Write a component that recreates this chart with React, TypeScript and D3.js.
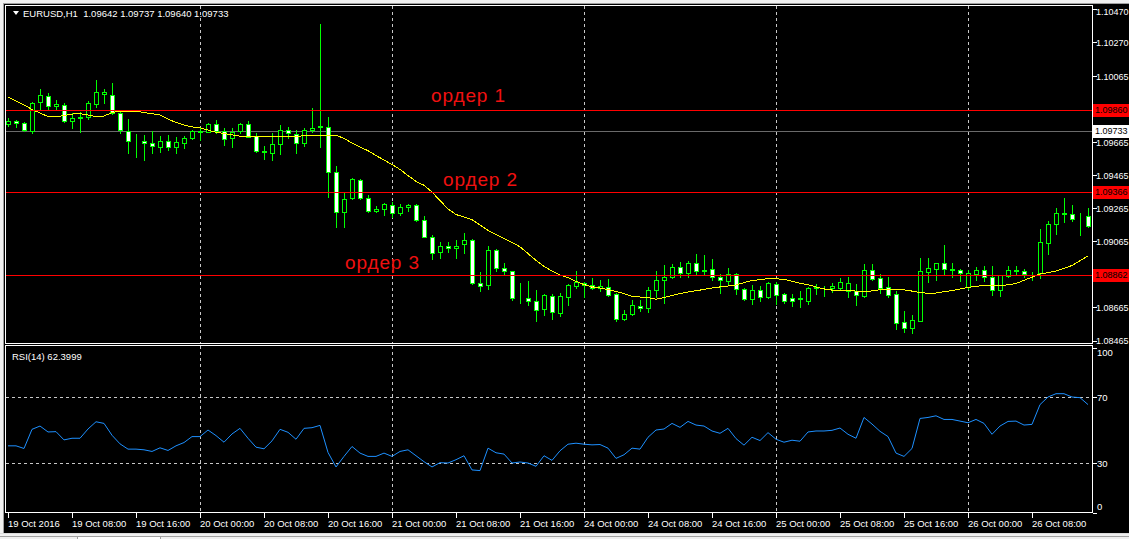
import React from "react";
import * as d3 from "d3";

// подписи шкалы времени (каждые 8 баров)
const timeLabels = [
  "19 Oct 2016", "19 Oct 08:00", "19 Oct 16:00", "20 Oct 00:00", "20 Oct 08:00",
  "20 Oct 16:00", "21 Oct 00:00", "21 Oct 08:00", "21 Oct 16:00", "24 Oct 00:00",
  "24 Oct 08:00", "24 Oct 16:00", "25 Oct 00:00", "25 Oct 08:00", "25 Oct 16:00",
  "26 Oct 00:00", "26 Oct 08:00",
];

const priceTicks = [1.1047, 1.1027, 1.10065, 1.0986, 1.09665, 1.09465, 1.09265, 1.09065, 1.08865, 1.08665, 1.08465];
const rsiTicks = [100, 70, 30, 0];
const rsiLevels = [70, 30];

// EURUSD H1, OHLC
const opens = [
  1.09775, 1.09793, 1.09781, 1.09734, 1.09908, 1.09946, 1.09884, 1.09892, 1.09791, 1.09811,
  1.09815, 1.09898, 1.09954, 1.09952, 1.0984, 1.09734, 1.0967, 1.09674, 1.09662, 1.09637,
  1.0967, 1.09634, 1.09662, 1.09688, 1.09732, 1.09726, 1.09773, 1.09734, 1.09688, 1.09731,
  1.09773, 1.09702, 1.09613, 1.09601, 1.09654, 1.09738, 1.09712, 1.09658, 1.09738, 1.09763,
  1.09758, 1.09483, 1.09241, 1.09325, 1.09434, 1.09325, 1.0925, 1.09259, 1.09283, 1.09235,
  1.09271, 1.09283, 1.09192, 1.09093, 1.08999, 1.09038, 1.09023, 1.09047, 1.09071, 1.08811,
  1.08799, 1.09012, 1.08902, 1.08884, 1.0872, 1.0872, 1.08706, 1.08654, 1.08734, 1.08633,
  1.0873, 1.08797, 1.08813, 1.08799, 1.08781, 1.0879, 1.08744, 1.08593, 1.08623, 1.08674,
  1.0866, 1.0877, 1.08831, 1.08847, 1.08908, 1.08871, 1.08932, 1.08887, 1.08896, 1.08847,
  1.08827, 1.08867, 1.08775, 1.08714, 1.0877, 1.0873, 1.08807, 1.08744, 1.08722, 1.08714,
  1.08706, 1.08783, 1.08786, 1.08784, 1.08784, 1.08766, 1.08766, 1.08734, 1.0889, 1.08843,
  1.08787, 1.08744, 1.08575, 1.08539, 1.08585, 1.08881, 1.08899, 1.08932, 1.08896, 1.0889,
  1.08787, 1.08869, 1.0889, 1.08849, 1.08772, 1.08857, 1.08888, 1.08885, 1.08865, 1.08871,
  1.09057, 1.09168, 1.09236, 1.09228, 1.09209, 1.09218,
];
const highs = [
  1.09811, 1.09799, 1.09789, 1.0991, 1.09987, 1.09961, 1.0992, 1.09902, 1.09841, 1.09847,
  1.09914, 1.10041, 1.09987, 1.10023, 1.09849, 1.09803, 1.09712, 1.09708, 1.09731, 1.09702,
  1.09708, 1.09698, 1.09702, 1.09738, 1.09749, 1.09779, 1.09799, 1.09751, 1.09749, 1.09783,
  1.09795, 1.09722, 1.09642, 1.09719, 1.09769, 1.09758, 1.09738, 1.09752, 1.0987, 1.1038,
  1.09819, 1.09521, 1.09356, 1.09446, 1.0944, 1.09345, 1.09279, 1.09299, 1.09305, 1.09291,
  1.09291, 1.09291, 1.09218, 1.09103, 1.09059, 1.09063, 1.09073, 1.09113, 1.09077, 1.08879,
  1.09037, 1.09017, 1.08932, 1.08887, 1.08811, 1.08827, 1.0877, 1.08746, 1.08746, 1.0875,
  1.08807, 1.08885, 1.08821, 1.08843, 1.08831, 1.08837, 1.0875, 1.08649, 1.0871, 1.0871,
  1.0879, 1.08885, 1.0892, 1.08928, 1.08942, 1.08946, 1.08988, 1.08982, 1.08958, 1.08867,
  1.08905, 1.08871, 1.08784, 1.08801, 1.08795, 1.08817, 1.08821, 1.08754, 1.08746, 1.08766,
  1.0879, 1.08805, 1.08795, 1.08811, 1.08841, 1.08851, 1.08807, 1.08928, 1.08928, 1.08867,
  1.08851, 1.08766, 1.08643, 1.08619, 1.08964, 1.08964, 1.08936, 1.09043, 1.08932, 1.08896,
  1.08891, 1.08908, 1.08916, 1.08916, 1.08863, 1.08916, 1.08916, 1.08898, 1.08878, 1.0914,
  1.09188, 1.09265, 1.09327, 1.09285, 1.09238, 1.09268,
];
const lows = [
  1.09763, 1.09757, 1.09732, 1.09722, 1.09859, 1.09859, 1.09859, 1.09787, 1.09752, 1.09728,
  1.09807, 1.09876, 1.099, 1.09833, 1.09722, 1.09601, 1.09573, 1.09557, 1.09601, 1.09605,
  1.09617, 1.09597, 1.0963, 1.09682, 1.09678, 1.09725, 1.09719, 1.0965, 1.09634, 1.09722,
  1.09694, 1.09607, 1.09561, 1.09557, 1.09593, 1.0969, 1.09601, 1.09643, 1.09728, 1.09634,
  1.09335, 1.09153, 1.0915, 1.09319, 1.09319, 1.09242, 1.09242, 1.09224, 1.0921, 1.09224,
  1.0925, 1.09186, 1.09089, 1.08956, 1.08962, 1.09002, 1.08962, 1.08993, 1.08807, 1.08766,
  1.08775, 1.08887, 1.08867, 1.0871, 1.0869, 1.08678, 1.08585, 1.08619, 1.08593, 1.08613,
  1.0868, 1.08783, 1.0873, 1.08778, 1.08766, 1.08734, 1.08585, 1.08589, 1.08619, 1.08645,
  1.08639, 1.08726, 1.08694, 1.08841, 1.08847, 1.08851, 1.08861, 1.08861, 1.08831, 1.08754,
  1.08807, 1.08746, 1.0871, 1.08686, 1.08706, 1.08724, 1.08686, 1.0869, 1.08674, 1.08669,
  1.08686, 1.08746, 1.08734, 1.0876, 1.0877, 1.0873, 1.0868, 1.08726, 1.08831, 1.08754,
  1.0873, 1.08535, 1.08518, 1.08508, 1.08581, 1.08821, 1.08831, 1.08865, 1.08847, 1.08827,
  1.08775, 1.08831, 1.08827, 1.0874, 1.08734, 1.08847, 1.08865, 1.08851, 1.08831, 1.08843,
  1.08988, 1.09109, 1.09184, 1.0919, 1.09103, 1.0915,
];
const closes = [
  1.09793, 1.09781, 1.09738, 1.09904, 1.09948, 1.09884, 1.09893, 1.09791, 1.09811, 1.09817,
  1.099, 1.09967, 1.09967, 1.0984, 1.09738, 1.0967, 1.09672, 1.09662, 1.09642, 1.0967,
  1.09634, 1.09664, 1.0969, 1.09732, 1.09725, 1.09775, 1.09734, 1.09682, 1.09728, 1.09775,
  1.09698, 1.09613, 1.09604, 1.09652, 1.09738, 1.09719, 1.09658, 1.09738, 1.09751, 1.09755,
  1.09483, 1.09241, 1.09323, 1.0944, 1.09325, 1.0925, 1.09258, 1.09289, 1.09235, 1.09271,
  1.09283, 1.09192, 1.09093, 1.08993, 1.09038, 1.09023, 1.09038, 1.09071, 1.08811, 1.08797,
  1.09012, 1.08902, 1.08884, 1.0872, 1.08725, 1.08706, 1.08649, 1.08738, 1.08636, 1.08734,
  1.08801, 1.08817, 1.08801, 1.08781, 1.08795, 1.08742, 1.08593, 1.08625, 1.08678, 1.0866,
  1.08769, 1.08831, 1.08847, 1.08908, 1.08871, 1.08932, 1.08887, 1.08893, 1.08847, 1.08829,
  1.08867, 1.08775, 1.08714, 1.0877, 1.0873, 1.08811, 1.0874, 1.08706, 1.08706, 1.08725,
  1.08783, 1.08786, 1.08789, 1.08795, 1.08817, 1.08811, 1.08742, 1.08891, 1.08839, 1.08784,
  1.08742, 1.08573, 1.08539, 1.08587, 1.08884, 1.08902, 1.08932, 1.08896, 1.08891, 1.08871,
  1.08871, 1.08891, 1.08851, 1.08772, 1.08859, 1.0889, 1.08891, 1.08865, 1.0887, 1.09061,
  1.09168, 1.09236, 1.0923, 1.09202, 1.09205, 1.09159,
];

// скользящая средняя (жёлтая)
const maValues = [
  1.09938, 1.09914, 1.0989, 1.09863, 1.09841, 1.0982, 1.09819, 1.09826, 1.09835, 1.09838,
  1.09829, 1.09819, 1.09823, 1.09844, 1.09853, 1.09853, 1.09852, 1.09844, 1.09837, 1.09829,
  1.09805, 1.09784, 1.09769, 1.09757, 1.09752, 1.09738, 1.09725, 1.09717, 1.09709, 1.09701,
  1.09698, 1.09698, 1.097, 1.09701, 1.09698, 1.09698, 1.09698, 1.09705, 1.09708, 1.09708,
  1.09708, 1.09708, 1.09687, 1.0966, 1.09636, 1.09613, 1.09584, 1.09557, 1.0953, 1.095,
  1.09463, 1.09428, 1.09404, 1.09363, 1.09312, 1.09261, 1.09227, 1.09213, 1.09196, 1.09164,
  1.09131, 1.09106, 1.09081, 1.09058, 1.09032, 1.08991, 1.0895, 1.08914, 1.08885, 1.08861,
  1.08846, 1.08823, 1.08803, 1.08789, 1.08783, 1.08773, 1.08761, 1.08749, 1.08733, 1.08728,
  1.08725, 1.08715, 1.08725, 1.08737, 1.08749, 1.08758, 1.08766, 1.08774, 1.08783, 1.08789,
  1.08795, 1.08801, 1.08815, 1.08828, 1.08833, 1.08839, 1.08838, 1.08835, 1.08824, 1.08811,
  1.08803, 1.08789, 1.08777, 1.0877, 1.0877, 1.08767, 1.08764, 1.08761, 1.08765, 1.08772,
  1.08775, 1.08775, 1.08771, 1.08764, 1.08755, 1.08751, 1.08752, 1.0876, 1.08767, 1.08777,
  1.08786, 1.08793, 1.08797, 1.08797, 1.08797, 1.08802, 1.0881, 1.08829, 1.08848, 1.08867,
  1.08876, 1.08885, 1.08901, 1.08919, 1.08948, 1.08976,
];

// RSI(14)
const rsiValues = [
  40.4, 40.4, 38.8, 50.4, 52.4, 48.8, 49, 44, 45, 45,
  50.6, 55, 54, 46.8, 41.6, 38.4, 38.4, 38, 37, 39.2,
  37.6, 40.4, 42.4, 46, 46, 50, 46.6, 42.6, 47.6, 51,
  45, 39.6, 38.6, 43.4, 50.4, 48.6, 44.4, 51, 51.4, 52.8,
  36.4, 27.6, 34, 40, 36, 34, 34, 36, 34, 37,
  38, 34.4, 30.8, 27.6, 30.2, 30, 32, 34.4, 25.8, 25.4,
  39, 36.2, 35.4, 30, 30.6, 30, 28, 34.4, 31.6, 37.4,
  41.4, 42, 41.4, 41, 41.2, 39, 32.8, 35, 39, 38.4,
  45.6, 50, 50.6, 54, 51.6, 55.2, 53, 52.4, 49.4, 48,
  51, 44.8, 40.8, 45.6, 43.6, 48.4, 44.4, 42.6, 43.8, 43.2,
  48.8, 49.4, 49.4, 49.8, 51.2, 47.4, 45, 57.6, 53.6, 49.2,
  46, 36, 34, 38.8, 57, 57.6, 58.6, 56.4, 56.4, 55.4,
  54.4, 56.4, 54, 47.4, 52.4, 55.2, 55.4, 53, 53.4, 65.4,
  70, 72, 72, 70, 69.6, 65.4,
];

const orderLevels = [1.0986, 1.09366, 1.08862];
const orderNames = ["ордер 1", "ордер 2", "ордер 3"];
const bidPrice = 1.09733;
const headerText = "EURUSD,H1  1.09642 1.09737 1.09640 1.09733";
const rsiText = "RSI(14) 62.3999";

const FONT = "'Liberation Sans', Arial, sans-serif";

const App: React.FC = () => {
  const W = 1129;
  const H = 539;
  const left = 5.5;
  const right = 1092.5;
  const mainTop = 5.5;
  const mainBottom = 343.5;
  const rsiTop = 345.5;
  const rsiBottom = 512.5;

  const x = d3.scaleLinear().domain([0, closes.length - 1]).range([8, 1088]);
  const y = d3.scaleLinear().domain([1.08465, 1.1047]).range([340.5, 9.1]);
  const yR = d3.scaleLinear().domain([0, 100]).range([512.5, 347.5]);

  const px = (v: number) => Math.round(v) + 0.5;

  const maPath = d3.line<number>().x((_, i) => x(i)).y((d) => y(d))(maValues) || "";
  const rsiPath = d3.line<number>().x((_, i) => x(i)).y((d) => yR(d))(rsiValues) || "";

  // вертикальная сетка по полуночи
  const gridBars = timeLabels
    .map((t, i) => ({ t, bar: i * 8 }))
    .filter((d) => d.t.endsWith("00:00"))
    .map((d) => d.bar);

  const labelOffsets = [
    { x: 431, dy: -8 },
    { x: 443, dy: -6 },
    { x: 345, dy: -6 },
  ];

  return (
    <div style={{ position: "absolute", left: 0, top: 0 }}>
      <svg width={W} height={H} style={{ display: "block", fontFamily: FONT }}>
        <defs>
          <clipPath id="mainClip">
            <rect x={left + 0.5} y={mainTop + 0.5} width={right - left - 1} height={mainBottom - mainTop - 1} />
          </clipPath>
          <clipPath id="rsiClip">
            <rect x={left + 0.5} y={rsiTop + 0.5} width={right - left - 1} height={rsiBottom - rsiTop - 1} />
          </clipPath>
        </defs>

        {/* рамка окна */}
        <rect x={0} y={0} width={W} height={H} fill="#f0f0f0" />
        <rect x={4} y={4} width={W - 4} height={529} fill="#000" />
        <line x1={3.5} x2={3.5} y1={3} y2={533} stroke="#a0a0a0" />
        <line x1={3} x2={W} y1={3.5} y2={3.5} stroke="#a0a0a0" />
        <line x1={0} x2={W} y1={533.5} y2={533.5} stroke="#dcdcdc" />
        <rect x={77.5} y={536.5} width={83} height={4} fill="#fff" stroke="#a0a0a0" />
        <line x1={0} x2={77} y1={536.5} y2={536.5} stroke="#a0a0a0" />
        <line x1={160} x2={W} y1={536.5} y2={536.5} stroke="#a0a0a0" />

        {/* сетка */}
        <g stroke="#c8c8c8" strokeDasharray="3,3" shapeRendering="crispEdges">
          {gridBars.map((b) => (
            <g key={b}>
              <line x1={px(x(b))} x2={px(x(b))} y1={mainTop} y2={mainBottom} />
              <line x1={px(x(b))} x2={px(x(b))} y1={rsiTop} y2={rsiBottom} />
            </g>
          ))}
          {rsiLevels.map((l) => (
            <line key={l} x1={left} x2={right + 4} y1={px(yR(l))} y2={px(yR(l))} />
          ))}
        </g>

        {/* свечи */}
        <g clipPath="url(#mainClip)" shapeRendering="crispEdges">
          <line x1={left} x2={right} y1={px(y(bidPrice))} y2={px(y(bidPrice))} stroke="#6a6a6a" />
          {closes.map((c, i) => {
            const o = opens[i];
            const cx = px(x(i));
            const yo = y(o);
            const yc = y(c);
            const top = Math.round(Math.min(yo, yc));
            const bot = Math.round(Math.max(yo, yc));
            const bull = c >= o;
            return (
              <g key={i}>
                <line x1={cx} x2={cx} y1={Math.round(y(highs[i]))} y2={Math.round(y(lows[i])) + 1} stroke="#00ff00" />
                <rect
                  x={cx - 2}
                  y={top + 0.5}
                  width={4}
                  height={Math.max(bot - top, 0)}
                  fill={bull ? "#000" : "#fff"}
                  stroke="#00ff00"
                />
              </g>
            );
          })}
          <path d={maPath} fill="none" stroke="#ffff00" strokeWidth={1} />
          {orderLevels.map((l) => (
            <line key={l} x1={left} x2={right} y1={px(y(l))} y2={px(y(l))} stroke="#ff0000" />
          ))}
        </g>

        {/* надписи ордеров */}
        {orderLevels.map((l, i) => (
          <text
            key={l}
            x={labelOffsets[i].x}
            y={y(l) + labelOffsets[i].dy}
            fill="#f01010"
            fontSize={19}
            textLength={74}
            lengthAdjust="spacing"
          >
            {orderNames[i]}
          </text>
        ))}

        {/* RSI */}
        <g clipPath="url(#rsiClip)">
          <path d={rsiPath} fill="none" stroke="#1e90ff" strokeWidth={1} />
        </g>

        {/* рамки панелей */}
        <g fill="none" stroke="#fff" shapeRendering="crispEdges">
          <rect x={left} y={mainTop} width={right - left} height={mainBottom - mainTop} />
          <rect x={left} y={rsiTop} width={right - left} height={rsiBottom - rsiTop} />
        </g>

        {/* шкала цен */}
        <g fill="#fff" fontSize={9}>
          {priceTicks.map((p) => (
            <g key={p}>
              <line x1={right} x2={right + 4} y1={px(y(p))} y2={px(y(p))} stroke="#fff" shapeRendering="crispEdges" />
              <text x={1096} y={Math.max(y(p), 11) + 3.5}>{p.toFixed(5)}</text>
            </g>
          ))}
        </g>
        {orderLevels.map((l) => (
          <g key={l}>
            <rect x={1093} y={Math.round(y(l)) - 6} width={36} height={13} fill="#ff0000" />
            <text x={1095} y={y(l) + 3.5} fontSize={9} fill="#000">{l.toFixed(5)}</text>
          </g>
        ))}
        <rect x={1093} y={Math.round(y(bidPrice)) - 6} width={36} height={13} fill="#fff" />
        <text x={1095} y={y(bidPrice) + 3.5} fontSize={9} fill="#000">{bidPrice.toFixed(5)}</text>

        {/* шкала RSI */}
        <g fill="#fff" fontSize={9.5}>
          {rsiTicks.map((t) => {
            const ty = Math.min(Math.max(yR(t), rsiTop + 7), rsiBottom - 6);
            return (
              <g key={t}>
                <line x1={right} x2={right + 4} y1={px(yR(t))} y2={px(yR(t))} stroke="#fff" shapeRendering="crispEdges" />
                <text x={1097} y={ty + 3.5}>{t}</text>
              </g>
            );
          })}
        </g>

        {/* шкала времени */}
        <g fill="#fff" fontSize={9.5}>
          {timeLabels.map((t, i) => (
            <g key={t}>
              <line x1={px(x(i * 8))} x2={px(x(i * 8))} y1={rsiBottom} y2={518} stroke="#fff" shapeRendering="crispEdges" />
              <text x={x(i * 8)} y={527}>{t}</text>
            </g>
          ))}
        </g>

        {/* заголовки */}
        <polygon points="13,11 19,11 16,15" fill="#fff" />
        <text x={23} y={17} fill="#fff" fontSize={9.5} style={{ whiteSpace: "pre" }}>
          {headerText}
        </text>
        <text x={12} y={360} fill="#fff" fontSize={9.5}>{rsiText}</text>
      </svg>
    </div>
  );
};

export default App;
